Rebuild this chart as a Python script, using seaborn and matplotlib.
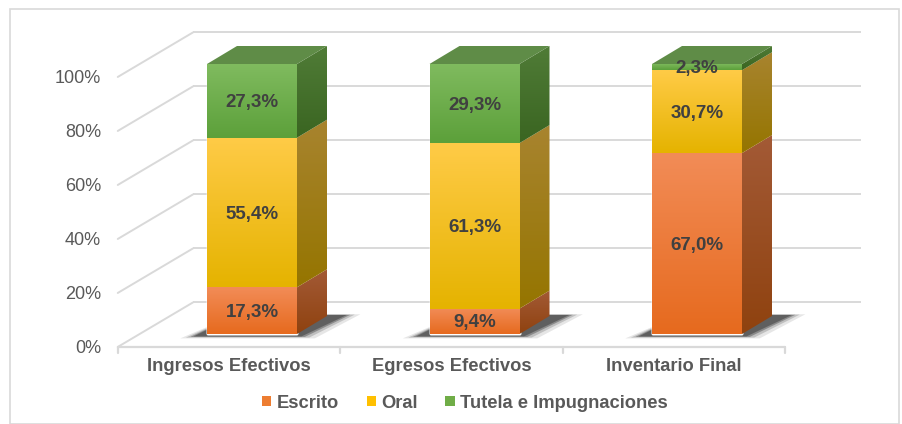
import numpy as np
import pandas as pd
import matplotlib
matplotlib.use("Agg")
import matplotlib.pyplot as plt
import seaborn as sns
from matplotlib.patches import Polygon, Patch, Rectangle
from matplotlib.colors import LinearSegmentedColormap

# ---------------- data ----------------
categories = ["Ingresos Efectivos", "Egresos Efectivos", "Inventario Final"]
escrito = [17.3, 9.4, 67.0]
oral = [55.4, 61.3, 30.7]
tutela = [27.3, 29.3, 2.3]
series_names = ["Escrito", "Oral", "Tutela e Impugnaciones"]
y_ticks = [0, 20, 40, 60, 80, 100]
y_tick_labels = ["0%", "20%", "40%", "60%", "80%", "100%"]

# ---------------- style ----------------
sns.set_theme(style="white")
plt.rcParams["font.family"] = ["Liberation Sans", "DejaVu Sans"]

front_cols = {"Escrito": ("#F28C57", "#E66A1E"),
              "Oral": ("#FFCB47", "#E5B300"),
              "Tutela e Impugnaciones": ("#80BB5F", "#5CA03A")}
side_cols = {"Escrito": ("#A35A36", "#8F420F"),
             "Oral": ("#A8842F", "#957500"),
             "Tutela e Impugnaciones": ("#507C37", "#3A6521")}
top_cols = {"Escrito": "#EE8B55", "Oral": "#F7C540", "Tutela e Impugnaciones": "#5F8C47"}
legend_cols = {"Escrito": "#ED7D31", "Oral": "#FFC000", "Tutela e Impugnaciones": "#70AD47"}
grid_c = "#D9D9D9"
text_c = "#595959"
label_c = "#404040"

W, H = 902, 424
fig = plt.figure(figsize=(W / 100, H / 100), dpi=100)

# pixel mapping: px = 252 + 222.5*x ; py = 334 - 2.7*v
xlim = (-0.65, 2.8)
ylim = (-8.0, 115.0)
px_l, px_r = 252 + 222.5 * xlim[0], 252 + 222.5 * xlim[1]
py_b, py_t = 334 - 2.7 * ylim[0], 334 - 2.7 * ylim[1]
ax = fig.add_axes([px_l / W, (H - py_b) / H, (px_r - px_l) / W, (py_b - py_t) / H])

bar_w = 90 / 222.5
ddx, ddy = 30 / 222.5, 18 / 2.7          # bar depth
f_dx, f_dy = -23 / 222.5, -4.8           # front plane offset
back_dy = 11.7
front_left, front_right = -0.5 + f_dx, 2.5 + f_dx
back_left, back_right = (193 - 252) / 222.5, (861 - 252) / 222.5

# ---------------- walls / grid ----------------
for v in y_ticks:
    ax.plot([back_left, back_right], [v + back_dy, v + back_dy], color=grid_c, lw=1.4, zorder=0.2,
            clip_on=False, solid_capstyle="butt")
    ax.plot([front_left, back_left], [v + f_dy, v + back_dy], color=grid_c, lw=1.4, zorder=0.2, clip_on=False)
ax.plot([front_left, front_right], [f_dy, f_dy], color=grid_c, lw=1.6, zorder=0.3, clip_on=False)
for k in range(4):
    xb = front_left + k
    ax.plot([xb, xb], [f_dy, f_dy - 2.3], color=grid_c, lw=1.6, zorder=0.3, clip_on=False)

# ---------------- stacked bars via seaborn ----------------
df = pd.DataFrame({"cat": categories, "Escrito": escrito, "Oral": oral,
                   "Tutela e Impugnaciones": tutela})
df["c1"] = df["Escrito"]
df["c2"] = df["Escrito"] + df["Oral"]
df["c3"] = df["c2"] + df["Tutela e Impugnaciones"]
for col, name in [("c3", "Tutela e Impugnaciones"), ("c2", "Oral"), ("c1", "Escrito")]:
    sns.barplot(data=df, x="cat", y=col, color=legend_cols[name], saturation=1,
                width=bar_w, errorbar=None, ax=ax, zorder=1)

grad = np.linspace(0, 1, 256).reshape(-1, 1)


def grad_fill(verts, c_top, c_bot, z):
    poly = Polygon(verts, closed=True, facecolor="none", edgecolor="none", transform=ax.transData)
    ax.add_patch(poly)
    xs = [p[0] for p in verts]
    ys = [p[1] for p in verts]
    cmap = LinearSegmentedColormap.from_list("g", [c_bot, c_top])
    im = ax.imshow(grad, extent=(min(xs), max(xs), min(ys), max(ys)), origin="lower",
                   cmap=cmap, aspect="auto", zorder=z, interpolation="bilinear")
    im.set_clip_path(poly)


for i in range(len(categories)):
    xl, xr = i - bar_w / 2, i + bar_w / 2
    # floor shadow
    for grow, a in [(0.06, 0.10), (0.035, 0.18), (0.015, 0.30), (0.0, 0.35)]:
        sh = Polygon([(xl - 0.06 - grow, -0.9 - grow * 12), (xr + 0.02 + grow, -0.9 - grow * 12),
                      (xr + ddx + 0.09 + grow, ddy + 0.4 + grow * 4), (xl + ddx, ddy + 0.4 + grow * 4)],
                     closed=True, facecolor="#111111", edgecolor="none", alpha=a, zorder=0.6)
        ax.add_patch(sh)
    base = 0.0
    vals = [escrito[i], oral[i], tutela[i]]
    for name, v in zip(series_names, vals):
        b, t = base, base + v
        ct, cb = front_cols[name]
        grad_fill([(xl, b), (xr, b), (xr, t), (xl, t)], ct, cb, 2)
        st, sb = side_cols[name]
        grad_fill([(xr, b), (xr + ddx, b + ddy), (xr + ddx, t + ddy), (xr, t)], st, sb, 2)
        ax.text(i, (b + t) / 2 - 0.6, f"{v:.1f}".replace(".", ",") + "%", ha="center", va="center",
                fontsize=13.5, fontweight="bold", color=label_c, zorder=5)
        base = t
    top = Polygon([(xl, base), (xr, base), (xr + ddx, base + ddy), (xl + ddx, base + ddy)],
                  closed=True, facecolor=top_cols["Tutela e Impugnaciones"], edgecolor="none", zorder=2)
    ax.add_patch(top)

# ---------------- axes cosmetics ----------------
ax.set_xlim(*xlim)
ax.set_ylim(*ylim)
for s in ax.spines.values():
    s.set_visible(False)
ax.set_xlabel("")
ax.set_ylabel("")
ax.set_yticks([v + f_dy for v in y_ticks])
ax.set_yticklabels(y_tick_labels, fontsize=13, color=text_c)
ax.set_xticks([i + f_dx for i in range(len(categories))])
ax.set_xticklabels(categories, fontsize=13.2, fontweight="bold", color=text_c)
ax.tick_params(axis="both", length=0)
ax.tick_params(axis="y", pad=4.6)
ax.tick_params(axis="x", pad=2)
ax.grid(False)
ax.patch.set_alpha(0)

# ---------------- legend ----------------
handles = [Patch(facecolor=legend_cols[n], edgecolor="none", label=n) for n in series_names]
fig.legend(handles=handles, loc="center", bbox_to_anchor=(465 / W, 1 - 403 / H), ncol=3,
           frameon=False, handlelength=0.5, handleheight=0.5, handletextpad=0.3,
           columnspacing=1.5, prop={"size": 13.2, "weight": "bold"}, labelcolor=text_c)

# ---------------- outer border ----------------
fig.patches.append(Rectangle((10 / W, 0), (899 - 10) / W, 1 - 9 / H, transform=fig.transFigure,
                             facecolor="none", edgecolor=grid_c, lw=1.2))

fig.savefig("out.png", dpi=100)
